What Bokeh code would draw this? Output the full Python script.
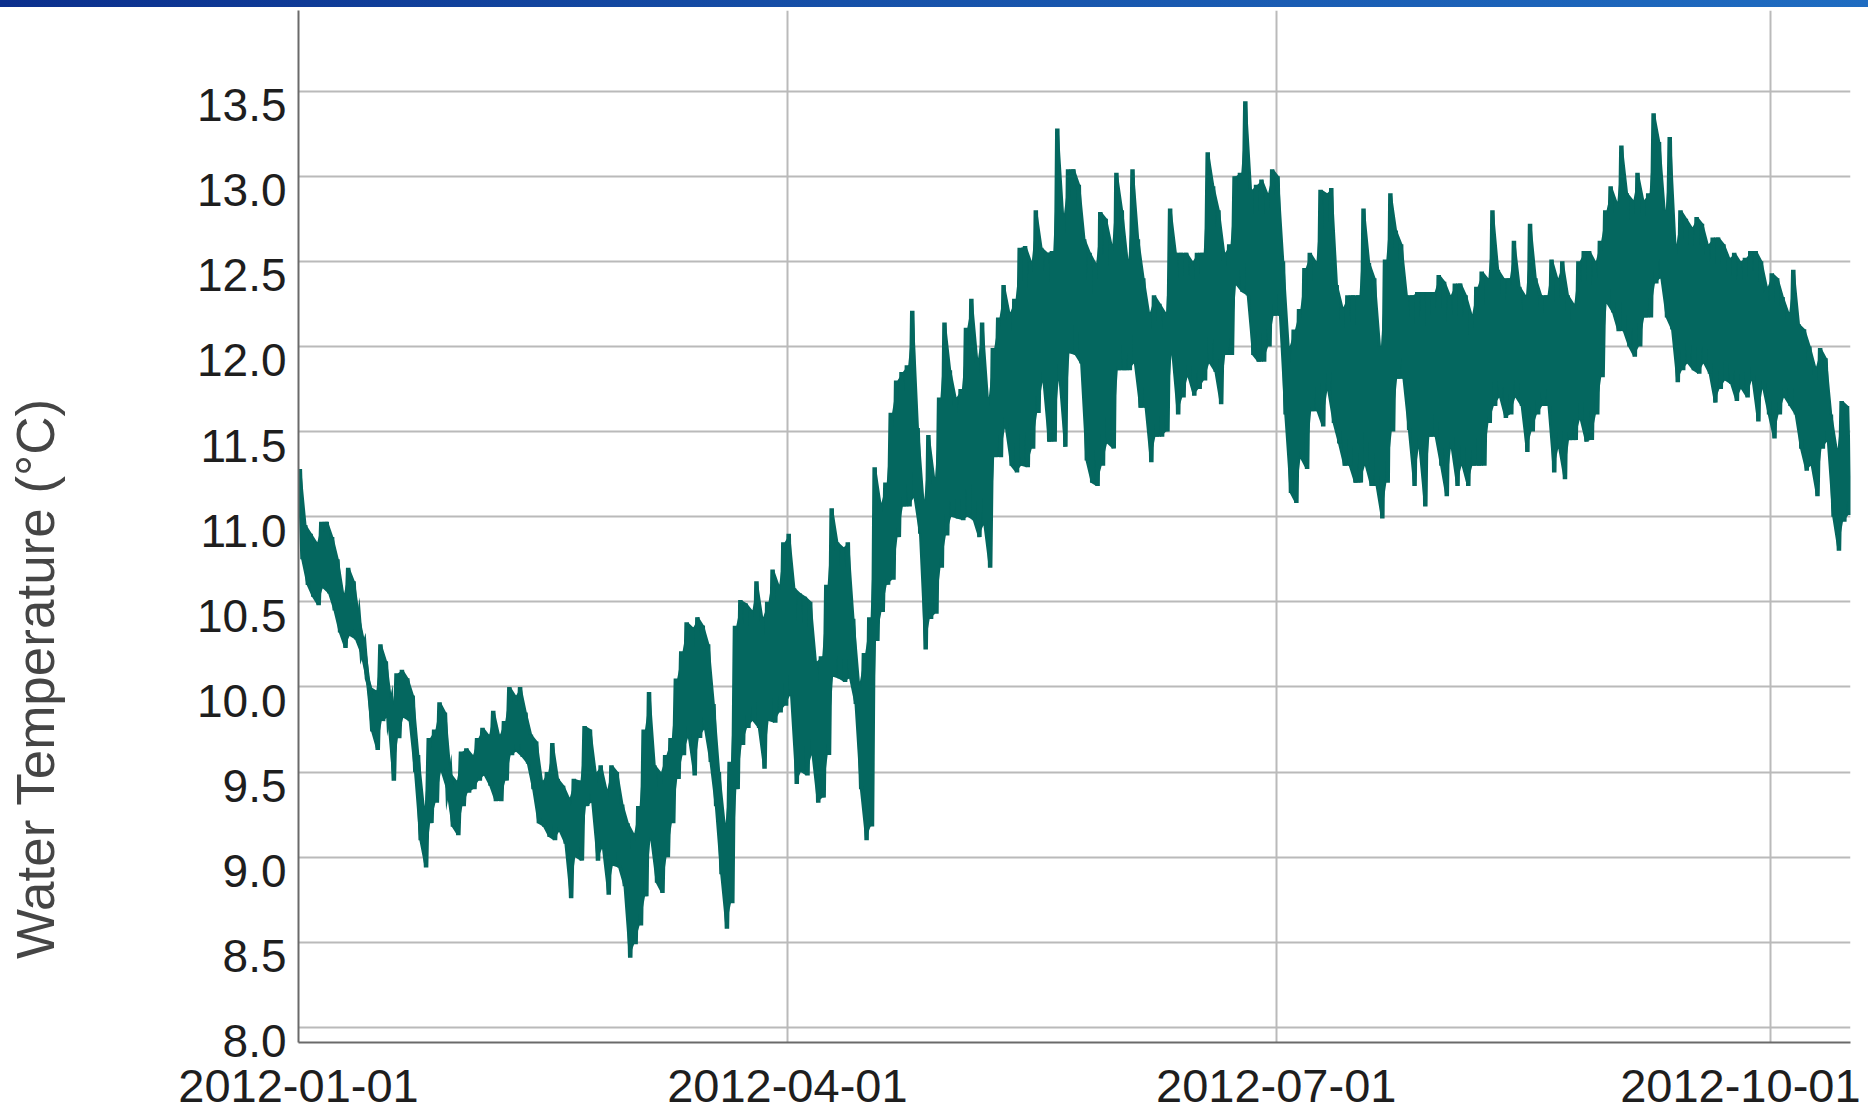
import numpy as np
import pandas as pd
from bokeh.plotting import figure
from bokeh.layouts import row
from bokeh.models import (ColumnDataSource, FixedTicker, Range1d,
                          InlineStyleSheet)
from bokeh.core.properties import value
from bokeh.embed import file_html
from bokeh.resources import INLINE

# ---------------- data ----------------
start_date = "2012-01-01"

# daily high / low of the water temperature (degC), one value per day from 2012-01-01
day_hi = [
    11.28, 10.95, 10.90, 10.85, 10.97, 10.97, 10.88, 10.75, 10.55, 10.70,
    10.62, 10.40, 10.25, 10.00, 9.98, 10.25, 10.15, 9.90, 10.08, 10.10,
    10.05, 9.95, 9.60, 9.30, 9.70, 9.75, 9.91, 9.85, 9.49, 9.45,
    9.62, 9.64, 9.60, 9.70, 9.76, 9.72, 9.86, 9.72, 9.80, 10.00,
    9.95, 10.00, 9.85, 9.72, 9.68, 9.45, 9.50, 9.67, 9.46,
    9.42, 9.35, 9.46, 9.45, 9.77, 9.75, 9.50, 9.54, 9.40, 9.54,
    9.50, 9.31, 9.20, 9.14, 9.30, 9.75, 9.97, 9.54, 9.50, 9.60,
    9.70, 10.05, 10.21, 10.38, 10.35, 10.41, 10.36, 10.25, 9.90, 9.50,
    9.20, 9.56, 10.36, 10.51, 10.49, 10.45, 10.62, 10.41, 10.50, 10.69,
    10.60, 10.85, 10.90, 10.58, 10.55, 10.53, 10.50, 10.15,
    10.18, 10.60, 11.05, 10.85, 10.82, 10.85, 10.40, 10.03, 10.20, 10.41,
    11.29, 11.08, 11.20, 11.61, 11.80, 11.85, 11.89, 12.21, 11.52, 11.10,
    11.48, 11.23, 11.70, 12.14, 11.86, 11.70, 11.75, 12.11, 12.28, 11.93,
    12.14, 11.70, 11.99, 12.17, 12.36, 12.20, 12.28, 12.58, 12.59, 12.50,
    12.80, 12.58, 12.55, 12.56, 13.28, 12.78, 13.04,
    13.04, 12.95, 12.63, 12.55, 12.49, 12.79, 12.75, 12.60, 13.02, 12.80,
    12.51, 13.04, 12.63, 12.40, 12.20, 12.30, 12.25, 12.20, 12.81, 12.55,
    12.55, 12.55, 12.50, 12.55, 12.55, 13.14, 12.94, 12.80, 12.55, 12.60,
    13.00, 13.02, 13.44, 12.92, 12.95, 12.98, 12.90, 13.04, 13.00, 12.50,
    12.00, 12.10, 12.22, 12.46, 12.55, 12.50, 12.92, 12.90,
    12.93, 12.36, 12.23, 12.30, 12.30, 12.30, 12.81, 12.49, 12.40, 12.00,
    12.51, 12.90, 12.68, 12.60, 12.30, 12.30, 12.32, 12.32, 12.32, 12.32,
    12.42, 12.38, 12.30, 12.37, 12.37, 12.30, 12.19, 12.35, 12.44, 12.40,
    12.80, 12.45, 12.40, 12.40, 12.62, 12.35, 12.30, 12.72, 12.40, 12.30,
    12.30, 12.51, 12.40, 12.50, 12.30, 12.25, 12.50, 12.56,
    12.56, 12.50, 12.62, 12.80, 12.94, 12.85, 13.18, 12.90, 12.86, 13.02,
    12.86, 12.90, 13.37, 13.20, 12.80, 13.23, 12.60, 12.80, 12.75, 12.70,
    12.76, 12.72, 12.60, 12.64, 12.64, 12.60, 12.52, 12.55, 12.50, 12.52,
    12.56, 12.56, 12.50, 12.35, 12.43, 12.40, 12.29, 12.20, 12.45, 12.13,
    12.10, 12.00, 11.88, 11.99, 11.93, 11.60, 11.40, 11.68, 11.65,
]
day_lo = [
    10.75, 10.60, 10.53, 10.48, 10.58, 10.55, 10.45, 10.32, 10.23, 10.30,
    10.28, 10.20, 10.05, 9.74, 9.63, 9.80, 9.82, 9.45, 9.70, 9.82,
    9.80, 9.50, 9.10, 8.94, 9.20, 9.32, 9.50, 9.40, 9.18, 9.13,
    9.30, 9.38, 9.40, 9.45, 9.48, 9.42, 9.33, 9.33, 9.45, 9.60,
    9.62, 9.59, 9.55, 9.40, 9.20, 9.18, 9.12, 9.10, 9.15,
    9.08, 8.76, 9.00, 8.98, 9.30, 9.32, 8.98, 9.05, 8.78, 8.95,
    8.94, 8.83, 8.41, 8.49, 8.60, 8.77, 9.10, 8.85, 8.79, 9.00,
    9.20, 9.46, 9.60, 9.70, 9.48, 9.70, 9.75, 9.56, 9.30, 8.90,
    8.58, 8.73, 9.40, 9.66, 9.76, 9.80, 9.76, 9.52, 9.80, 9.79,
    9.85, 9.89, 9.95, 9.43, 9.50, 9.48, 9.60, 9.32,
    9.35, 9.60, 10.06, 10.05, 10.03, 10.05, 9.90, 9.40, 9.10, 9.18,
    10.27, 10.44, 10.60, 10.63, 10.88, 11.06, 11.06, 11.11, 10.90, 10.22,
    10.40, 10.43, 10.70, 10.89, 11.00, 10.99, 10.98, 11.00, 10.98, 10.88,
    10.95, 10.70, 11.35, 11.35, 11.52, 11.30, 11.26, 11.30, 11.29, 11.40,
    11.61, 11.79, 11.44, 11.44, 11.80, 11.41, 11.96,
    11.95, 11.90, 11.33, 11.20, 11.18, 11.30, 11.43, 11.40, 11.86, 11.86,
    11.86, 11.90, 11.64, 11.64, 11.32, 11.47, 11.47, 11.50, 11.95, 11.60,
    11.70, 11.82, 11.71, 11.75, 11.80, 11.90, 11.85, 11.66, 11.95, 11.95,
    12.36, 12.32, 12.30, 11.95, 11.91, 11.91, 12.00, 12.18, 12.18, 11.60,
    11.14, 11.08, 11.34, 11.28, 11.62, 11.62, 11.53, 11.74,
    11.55, 11.43, 11.30, 11.30, 11.20, 11.20, 11.30, 11.18, 11.18, 10.99,
    11.20, 11.50, 11.81, 11.81, 11.51, 11.18, 11.40, 11.06, 11.47, 11.47,
    11.30, 11.12, 11.40, 11.18, 11.30, 11.18, 11.30, 11.30, 11.30, 11.55,
    11.65, 11.70, 11.58, 11.60, 11.70, 11.65, 11.38, 11.50, 11.60, 11.65,
    11.65, 11.26, 11.40, 11.22, 11.45, 11.45, 11.57, 11.44,
    11.45, 11.60, 11.82, 12.25, 12.20, 12.09, 12.09, 12.00, 11.94, 12.00,
    12.17, 12.17, 12.37, 12.40, 12.17, 12.10, 11.79, 11.86, 11.90, 11.86,
    11.84, 11.90, 11.84, 11.67, 11.75, 11.80, 11.78, 11.68, 11.75, 11.70,
    11.80, 11.56, 11.75, 11.60, 11.46, 11.60, 11.70, 11.65, 11.60, 11.40,
    11.27, 11.30, 11.12, 11.40, 11.44, 11.00, 10.80, 10.97, 11.01,
]

x_ticks = ["2012-01-01", "2012-04-01", "2012-07-01", "2012-10-01"]
x_labels = ["2012-01-01", "2012-04-01", "2012-07-01", "2012-10-01"]
y_ticks = [8.0, 8.5, 9.0, 9.5, 10.0, 10.5, 11.0, 11.5, 12.0, 12.5, 13.0, 13.5]
y_labels = ["8.0", "8.5", "9.0", "9.5", "10.0", "10.5", "11.0", "11.5",
            "12.0", "12.5", "13.0", "13.5"]
y_title = "Water Temperature (°C)"

# ---------------- build series ----------------
DAY_MS = 86400000.0
LINE_COLOR = "#04675f"
FONT = "Liberation Sans"
W, H = 1868, 1111
TITLE_W = 80


def ms(s):
    return pd.Timestamp(s).value / 1e6


n = len(day_hi)
d = np.arange(n, dtype=float)
x0 = ms(start_date)
tx = np.empty(2 * n)
ty = np.empty(2 * n)
tx[0::2] = x0 + (d + 0.25) * DAY_MS
tx[1::2] = x0 + (d + 0.75) * DAY_MS
ty[0::2] = day_hi
ty[1::2] = day_lo
src = ColumnDataSource(data=dict(t=tx, temp=ty))
band = ColumnDataSource(data=dict(t=x0 + (d + 0.5) * DAY_MS,
                                  hi=day_hi, lo=day_lo))

# ---------------- title strip (left) ----------------
tfig = figure(width=TITLE_W, height=H, x_range=Range1d(0, TITLE_W),
              y_range=Range1d(0, H), output_backend="svg",
              toolbar_location=None, tools="", x_axis_location=None,
              y_axis_location=None, min_border=0)
tfig.outline_line_color = None
tfig.grid.visible = False
tfig.background_fill_color = "white"
tfig.border_fill_color = "white"
tfig.text(x=[35], y=[392], text=[y_title], angle=90, angle_units="deg",
          text_align="center", text_baseline="middle",
          text_font=value(FONT), text_font_size=value("53px"),
          text_color="#454545")

# ---------------- main chart ----------------
p = figure(
    width=W - TITLE_W, height=H,
    x_axis_type="datetime",
    x_range=Range1d(x0, x0 + 288.9 * DAY_MS),
    y_range=Range1d(7.912, 13.973),
    output_backend="svg", toolbar_location=None, tools="",
    min_border_left=298 - TITLE_W, min_border_right=18,
    min_border_top=10, min_border_bottom=69,
)
p.outline_line_color = None
p.background_fill_color = "white"
p.border_fill_color = "white"

p.varea("t", "lo", "hi", source=band, fill_color=LINE_COLOR)
p.line("t", "temp", source=src, line_color=LINE_COLOR, line_width=4.5,
       line_join="miter")

# grids at the true tick values
p.xgrid.ticker = FixedTicker(ticks=[ms(t) for t in x_ticks])
p.ygrid.ticker = FixedTicker(ticks=y_ticks)
for g in (p.xgrid, p.ygrid):
    g.grid_line_color = "#bababa"
    g.grid_line_width = 2

# label positions (last date label nudged left so that it stays inside,
# y labels sit just below their grid lines)
x_shift = [0, 0, 0, -5.6 * DAY_MS]
x_pos = [ms(t) + s for t, s in zip(x_ticks, x_shift)]
y_pos = [round(v - 0.082, 3) for v in y_ticks]

xa = p.xaxis[0]
xa.ticker = FixedTicker(ticks=x_pos)
xa.major_label_overrides = {k: v for k, v in zip(x_pos, x_labels)}
xa.major_label_standoff = 27
xa.major_label_text_font_size = "47px"

ya = p.yaxis[0]
ya.ticker = FixedTicker(ticks=y_pos)
ya.major_label_overrides = {k: v for k, v in zip(y_pos, y_labels)}
ya.major_label_standoff = 12
ya.major_label_text_font_size = "46px"

for ax in (xa, ya):
    ax.major_tick_out = 0
    ax.major_tick_in = 0
    ax.minor_tick_out = 0
    ax.minor_tick_in = 0
    ax.axis_line_color = "#6a6a6a"
    ax.axis_line_width = 2
    ax.major_label_text_font = FONT
    ax.major_label_text_color = "#1e1e1e"

bar = InlineStyleSheet(css=(
    ":host::before{content:'';position:fixed;top:0;left:0;width:100vw;"
    "height:7px;z-index:10;"
    "background:linear-gradient(90deg,#0b2f8d 0%,#1650a8 45%,#1f6cc1 100%);}"
))
p.stylesheets = [bar]

layout = row(tfig, p, spacing=0)
open("out.html", "w").write(file_html(layout, INLINE))
